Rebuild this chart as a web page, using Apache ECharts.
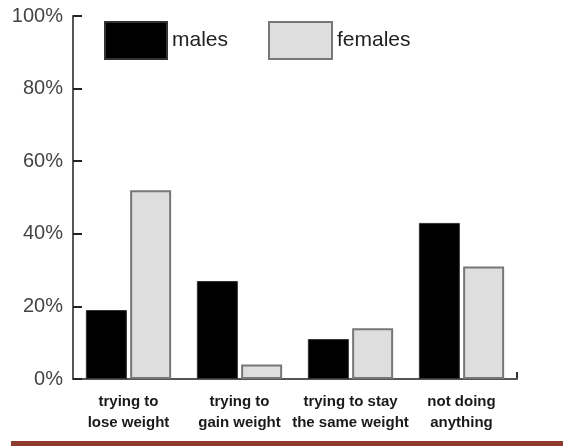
<!DOCTYPE html>
<html>
<head>
<meta charset="utf-8">
<script src="https://cdn.jsdelivr.net/npm/echarts@6/dist/echarts.min.js"></script>
<style>
html,body{margin:0;padding:0;background:#fff;}
#chart{width:563px;height:446px;}
</style>
</head>
<body>
<div id="chart"></div>
<script>
const categories = ['trying to\nlose weight', 'trying to\ngain weight', 'trying to stay\nthe same weight', 'not doing\nanything'];
const males = [19, 27, 11, 43];
const females = [52, 4, 14, 31];
const yTicks = [0, 20, 40, 60, 80, 100];

const chart = echarts.init(document.getElementById('chart'));
chart.setOption({
  animation: false,
  backgroundColor: '#fff',
  textStyle: { fontFamily: 'Liberation Sans' },
  legend: [
    {
      data: ['males'], left: 104, top: 21, padding: 0, icon: 'rect',
      itemWidth: 62, itemHeight: 37, itemGap: 5,
      textStyle: { fontSize: 21, color: '#222', fontFamily: 'Liberation Sans' },
      selectedMode: false
    },
    {
      data: ['females'], left: 268, top: 21, padding: 0, icon: 'rect',
      itemWidth: 63, itemHeight: 37, itemGap: 5,
      textStyle: { fontSize: 21, color: '#222', fontFamily: 'Liberation Sans' },
      selectedMode: false
    }
  ],
  grid: { left: 73, right: 46, top: 16, bottom: 67, containLabel: false },
  xAxis: {
    type: 'category',
    data: categories,
    axisLine: { show: true, lineStyle: { color: '#555', width: 2 } },
    axisTick: { show: false },
    axisLabel: {
      interval: 0, margin: 12, fontSize: 15, fontWeight: 'bold',
      color: '#1a1a1a', lineHeight: 21, fontFamily: 'Liberation Sans Narrow, Liberation Sans'
    }
  },
  yAxis: {
    type: 'value', min: yTicks[0], max: yTicks[yTicks.length - 1], interval: 20,
    axisLine: { show: true, lineStyle: { color: '#555', width: 2 } },
    axisTick: { show: true, inside: true, length: 9, lineStyle: { color: '#222', width: 2 } },
    splitLine: { show: false },
    axisLabel: { formatter: '{value}%', fontSize: 20, color: '#444', margin: 10, fontFamily: 'Liberation Sans' }
  },
  series: [
    {
      name: 'males', type: 'bar', data: males, barWidth: 41, barGap: '8%',
      itemStyle: { color: '#000', borderColor: '#333', borderWidth: 1 }
    },
    {
      name: 'females', type: 'bar', data: females, barWidth: 41,
      itemStyle: { color: '#dedede', borderColor: '#777', borderWidth: 2 }
    }
  ],
  graphic: [
    { type: 'rect', shape: { x: 11, y: 441, width: 552, height: 5 }, style: { fill: '#8e3b2c' }, silent: true }
  ]
});

// small end tick on the x axis, placed from the grid's own rect
const rect = chart.getModel().getComponent('grid').coordinateSystem.getRect();
const xEnd = rect.x + rect.width;
const yBase = rect.y + rect.height;
chart.setOption({
  graphic: [
    { type: 'rect', shape: { x: 11, y: 441, width: 552, height: 5 }, style: { fill: '#8e3b2c' }, silent: true },
    { type: 'line', shape: { x1: xEnd, y1: yBase - 7, x2: xEnd, y2: yBase }, style: { stroke: '#333', lineWidth: 2 }, silent: true }
  ]
});
</script>
</body>
</html>
